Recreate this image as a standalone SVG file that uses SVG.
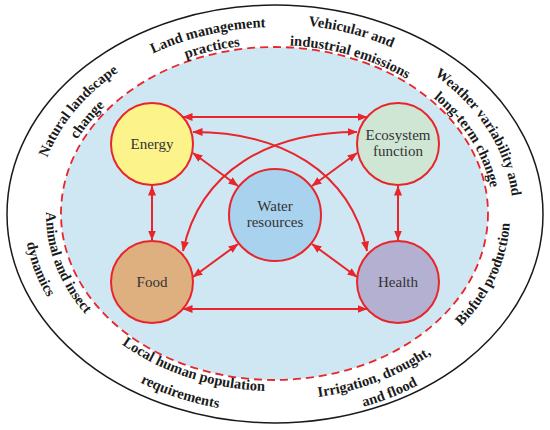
<svg xmlns="http://www.w3.org/2000/svg" width="550" height="430" viewBox="0 0 550 430">
  <style>
    .band { font-family: "Liberation Serif", "Times New Roman", serif; font-weight: bold; font-size: 14.5px; fill: #1a1a1a; }
    .node { stroke: #e8252b; stroke-width: 2; }
    .lbl { font-family: "Liberation Serif", "Times New Roman", serif; font-size: 15px; fill: #333; text-anchor: middle; }
    .conn { fill: none; stroke: #e8252b; stroke-width: 2; marker-start: url(#ah); marker-end: url(#ah); }
  </style>
  <defs>
    <marker id="ah" markerUnits="userSpaceOnUse" markerWidth="10" markerHeight="9" refX="9.5" refY="4" orient="auto-start-reverse">
      <path d="M0,0 L10,4 L0,8 z" fill="#e8252b"/>
    </marker>
    <path id="p1" d="M36.2,207.1 A239,188 0 0 1 163.2,47.8"/>
    <path id="p2" d="M55,211 A220,170 0 0 1 168.3,65.3"/>
    <path id="p3" d="M100.4,87 A238,187 0 0 1 327.7,31.7"/>
    <path id="p4" d="M113.3,98.7 A220,170 0 0 1 323.4,48.2"/>
    <path id="p5" d="M229.6,27.4 A242,190 0 0 1 458.2,89.9"/>
    <path id="p6" d="M241.5,47 A219,169 0 0 1 445.7,108.1"/>
    <path id="p7" d="M408.1,59 A238,187 0 0 1 512.4,227.1"/>
    <path id="p8" d="M399.7,75.4 A218,169 0 0 1 492.2,228.4"/>
    <path id="p9" d="M52.8,170.7 A229,179 0 0 0 115.9,342.8"/>
    <path id="p10" d="M31.8,165.1 A251,198 0 0 0 99.7,355.7"/>
    <path id="p11" d="M94,320 A226,177 0 0 0 301.8,389.8"/>
    <path id="p12" d="M71.6,332.4 A253,199 0 0 0 303.6,411.7"/>
    <path id="p13" d="M261.3,399.7 A238,186 0 0 0 473.9,316.1"/>
    <path id="p14" d="M265,418.9 A260,205 0 0 0 495,323.2"/>
    <path id="p15" d="M427.9,353.7 A235,184 0 0 0 506,180.1"/>
  </defs>

  <g id="background">
    <ellipse cx="275" cy="214" rx="268" ry="209" fill="#ffffff" stroke="#1a1a1a" stroke-width="1.5"/>
    <ellipse cx="274.5" cy="213.5" rx="213.5" ry="166.5" fill="#cfe7f3" stroke="#e8252b" stroke-width="1.8" stroke-dasharray="8 5"/>
  </g>

  <g id="outer-labels" class="band">
    <text><textPath href="#p1" startOffset="50%" text-anchor="middle">Natural landscape</textPath></text>
    <text><textPath href="#p2" startOffset="50%" text-anchor="middle">change</textPath></text>
    <text><textPath href="#p3" startOffset="50%" text-anchor="middle">Land management</textPath></text>
    <text><textPath href="#p4" startOffset="50%" text-anchor="middle">practices</textPath></text>
    <text><textPath href="#p5" startOffset="50%" text-anchor="middle">Vehicular and</textPath></text>
    <text><textPath href="#p6" startOffset="50%" text-anchor="middle">industrial emissions</textPath></text>
    <text><textPath href="#p7" startOffset="50%" text-anchor="middle">Weather variability and</textPath></text>
    <text><textPath href="#p8" startOffset="50%" text-anchor="middle">long-term change</textPath></text>
    <text><textPath href="#p9" startOffset="50%" text-anchor="middle">Animal and insect</textPath></text>
    <text><textPath href="#p10" startOffset="50%" text-anchor="middle">dynamics</textPath></text>
    <text><textPath href="#p11" startOffset="50%" text-anchor="middle">Local human population</textPath></text>
    <text><textPath href="#p12" startOffset="50%" text-anchor="middle">requirements</textPath></text>
    <text><textPath href="#p13" startOffset="50%" text-anchor="middle">Irrigation, drought,</textPath></text>
    <text><textPath href="#p14" startOffset="50%" text-anchor="middle">and flood</textPath></text>
    <text><textPath href="#p15" startOffset="50%" text-anchor="middle">Biofuel production</textPath></text>
  </g>

  <g id="connectors">
    <path class="conn" d="M183,117 L367,117"/>
    <path class="conn" d="M183,309 L367,309"/>
    <path class="conn" d="M152,186 L152,240"/>
    <path class="conn" d="M398,186 L398,240"/>
    <path class="conn" d="M193,153 L238,186"/>
    <path class="conn" d="M357,153 L312,186"/>
    <path class="conn" d="M193,277 L238,244"/>
    <path class="conn" d="M357,277 L312,244"/>
    <path class="conn" d="M193,132 C280,132 350,170 367,251"/>
    <path class="conn" d="M357,132 C270,132 200,170 183,251"/>
  </g>

  <g id="node-energy">
    <circle class="node" cx="152" cy="144" r="41" fill="#fcf48a"/>
    <text class="lbl" x="152" y="149">Energy</text>
  </g>
  <g id="node-ecosystem">
    <circle class="node" cx="398" cy="144" r="41" fill="#cfe6d5"/>
    <text class="lbl" x="398" y="140">Ecosystem</text>
    <text class="lbl" x="398" y="156">function</text>
  </g>
  <g id="node-water">
    <circle class="node" cx="275" cy="215" r="46" fill="#a9d2ef"/>
    <text class="lbl" x="275" y="211">Water</text>
    <text class="lbl" x="275" y="227">resources</text>
  </g>
  <g id="node-food">
    <circle class="node" cx="152" cy="282" r="41" fill="#dfb07f"/>
    <text class="lbl" x="152" y="287">Food</text>
  </g>
  <g id="node-health">
    <circle class="node" cx="398" cy="282" r="41" fill="#b3b0d1"/>
    <text class="lbl" x="398" y="287">Health</text>
  </g>
</svg>
